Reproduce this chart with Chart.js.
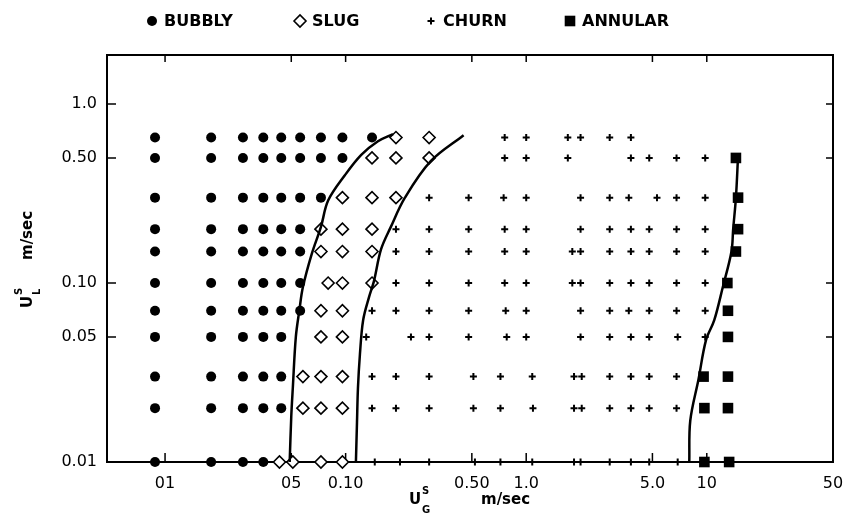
<!DOCTYPE html>
<html>
<head>
<meta charset="utf-8">
<title>Flow regime map</title>
<script src="https://cdn.jsdelivr.net/npm/chart.js"></script>
<style>
    html, body { margin: 0; padding: 0; background: #fff; }
    canvas { display: block; }
</style>
</head>
<body>
<canvas id="regimeChart" width="844" height="518"></canvas>
<script>
// superficial liquid velocity of each row of points (m/sec), top to bottom
const ulRows = [0.65, 0.5, 0.3, 0.2, 0.15, 0.1, 0.07, 0.05, 0.03, 0.02, 0.01];

// superficial gas velocity (m/sec) of the points, one list per row of ulRows
const bubblyUG = [
    [0.0088, 0.018, 0.027, 0.035, 0.044, 0.056, 0.073, 0.096, 0.14],
    [0.0088, 0.018, 0.027, 0.035, 0.044, 0.056, 0.073, 0.096],
    [0.0088, 0.018, 0.027, 0.035, 0.044, 0.056, 0.073],
    [0.0088, 0.018, 0.027, 0.035, 0.044, 0.056],
    [0.0088, 0.018, 0.027, 0.035, 0.044, 0.056],
    [0.0088, 0.018, 0.027, 0.035, 0.044, 0.056],
    [0.0088, 0.018, 0.027, 0.035, 0.044, 0.056],
    [0.0088, 0.018, 0.027, 0.035, 0.044],
    [0.0088, 0.018, 0.027, 0.035, 0.044],
    [0.0088, 0.018, 0.027, 0.035, 0.044],
    [0.0088, 0.018, 0.027, 0.035]
];
const slugUG = [
    [0.19, 0.29],
    [0.14, 0.19, 0.29],
    [0.096, 0.14, 0.19],
    [0.073, 0.096, 0.14],
    [0.073, 0.096, 0.14],
    [0.080, 0.096, 0.14],
    [0.073, 0.096],
    [0.073, 0.096],
    [0.058, 0.073, 0.096],
    [0.058, 0.073, 0.096],
    [0.043, 0.051, 0.073, 0.096]
];
const churnUG = [
    [0.76, 1.0, 1.7, 2.0, 2.9, 3.8],
    [0.76, 1.0, 1.7, 3.8, 4.8, 6.8, 9.8],
    [0.29, 0.48, 0.75, 1.0, 2.0, 2.9, 3.7, 5.3, 6.8, 9.8],
    [0.19, 0.29, 0.48, 0.76, 1.0, 2.0, 2.9, 3.8, 4.8, 6.8, 9.8],
    [0.19, 0.29, 0.48, 0.76, 1.0, 1.8, 2.0, 2.9, 3.8, 4.8, 6.8, 9.8],
    [0.19, 0.29, 0.48, 0.76, 1.0, 1.8, 2.0, 2.9, 3.8, 4.8, 6.8, 9.8],
    [0.14, 0.19, 0.29, 0.48, 0.77, 1.0, 2.0, 2.9, 3.7, 4.8, 6.8, 9.8],
    [0.13, 0.23, 0.29, 0.48, 0.78, 1.0, 2.0, 2.9, 3.8, 4.8, 6.9, 9.8],
    [0.14, 0.19, 0.29, 0.51, 0.72, 1.08, 1.84, 2.03, 2.9, 3.8, 4.8, 6.8],
    [0.14, 0.19, 0.29, 0.51, 0.72, 1.09, 1.84, 2.03, 2.9, 3.8, 4.8, 6.8],
    [0.145, 0.20, 0.29, 0.52, 0.72, 1.08, 1.84, 2.0, 2.9, 3.8, 4.8, 6.9]
];
const annularUG = [
    [], [14.5], [14.9], [14.9], [14.5], [13.0], [13.1], [13.1], [9.6, 13.1], [9.7, 13.1], [9.7, 13.3]
];

// transition boundaries
const bubblySlugUG = [0.049, 0.050, 0.051, 0.053, 0.0555, 0.058, 0.065, 0.073, 0.080, 0.099, 0.122, 0.151, 0.183];
const bubblySlugUL = [0.01, 0.018, 0.026, 0.05, 0.071, 0.095, 0.146, 0.206, 0.289, 0.40, 0.52, 0.62, 0.68];
const slugChurnUG = [0.114, 0.1156, 0.117, 0.120, 0.125, 0.135, 0.1435, 0.157, 0.178, 0.213, 0.296, 0.45];
const slugChurnUL = [0.01, 0.0167, 0.0258, 0.040, 0.062, 0.084, 0.1025, 0.154, 0.206, 0.30, 0.48, 0.67];
const churnAnnularUG = [8.0, 8.1, 9.0, 9.9, 11.0, 12.3, 13.7, 14.0, 14.5, 14.9];
const churnAnnularUL = [0.01, 0.017, 0.029, 0.048, 0.062, 0.096, 0.15, 0.2, 0.3, 0.51];

// axis ticks
const xTickValues = [0.01, 0.05, 0.1, 0.5, 1, 5, 10, 50];
const xTickLabels = ['01', '05', '0.10', '0.50', '1.0', '5.0', '10', '50'];
const yTickValues = [0.01, 0.05, 0.1, 0.5, 1];
const yTickLabels = ['0.01', '0.05', '0.10', '0.50', '1.0'];

const FONT = 'DejaVu Sans';

function rowPoints(rows) {
    const pts = [];
    rows.forEach((xs, i) => {
        xs.forEach(x => pts.push({ x: x, y: ulRows[i] }));
    });
    return pts;
}

function curvePoints(xs, ys) {
    return xs.map((x, i) => ({ x: x, y: ys[i] }));
}

function boundary(xs, ys) {
    return {
        label: '',
        data: curvePoints(xs, ys),
        showLine: true,
        borderColor: '#000',
        borderWidth: 2.5,
        pointRadius: 0,
        tension: 0.35,
        fill: false,
        clip: false
    };
}

/* frame round the plot with inward ticks on all four sides */
const framePlugin = {
    id: 'frame',
    beforeDatasetsDraw(chart) {
        const { ctx, chartArea: a, scales: { x, y } } = chart;
        ctx.save();
        ctx.strokeStyle = '#000';
        ctx.lineWidth = 2;
        ctx.strokeRect(a.left, a.top, a.right - a.left, a.bottom - a.top);
        ctx.lineWidth = 1.5;
        ctx.beginPath();
        xTickValues.forEach(v => {
            const px = x.getPixelForValue(v);
            if (px >= a.right - 2) return;
            ctx.moveTo(px, a.bottom);
            ctx.lineTo(px, a.bottom - 9);
            ctx.moveTo(px, a.top);
            ctx.lineTo(px, a.top + 7);
        });
        yTickValues.forEach(v => {
            const py = y.getPixelForValue(v);
            if (py >= a.bottom - 2) return;
            ctx.moveTo(a.left, py);
            ctx.lineTo(a.left + 9, py);
            ctx.moveTo(a.right, py);
            ctx.lineTo(a.right - 7, py);
        });
        ctx.stroke();
        ctx.restore();
    }
};

/* key along the top and the two axis titles with sub/superscripts */
const labelsPlugin = {
    id: 'labels',
    afterDraw(chart, args, opts) {
        const ctx = chart.ctx;
        ctx.save();
        ctx.fillStyle = '#000';
        ctx.strokeStyle = '#000';

        // key
        opts.key.forEach(item => {
            const ds = chart.data.datasets[item.dataset];
            ctx.fillStyle = ds.pointBackgroundColor || '#000';
            ctx.strokeStyle = '#000';
            ctx.lineWidth = ds.pointBorderWidth || 0;
            Chart.helpers.drawPoint(ctx, {
                pointStyle: ds.pointStyle,
                radius: ds.pointRadius,
                borderWidth: ds.pointBorderWidth || 0,
                rotation: 0
            }, item.x, opts.keyY);
            ctx.fillStyle = '#000';
            ctx.font = 'bold 16px ' + FONT;
            ctx.textAlign = 'left';
            ctx.textBaseline = 'middle';
            ctx.fillText(ds.label, item.x + 12, opts.keyY + 1);
        });

        // x title
        ctx.textBaseline = 'alphabetic';
        ctx.font = 'bold 15px ' + FONT;
        ctx.fillText('U', 409, 504);
        ctx.font = 'bold 10px ' + FONT;
        ctx.fillText('S', 422, 494);
        ctx.fillText('G', 422, 513);
        ctx.font = 'bold 15px ' + FONT;
        ctx.fillText('m/sec', 481, 504);

        // y title
        ctx.translate(32, 308);
        ctx.rotate(-Math.PI / 2);
        ctx.font = 'bold 15px ' + FONT;
        ctx.fillText('U', 0, 0);
        ctx.font = 'bold 10px ' + FONT;
        ctx.fillText('S', 13, -10);
        ctx.fillText('L', 13, 8);
        ctx.font = 'bold 15px ' + FONT;
        ctx.fillText('m/sec', 48, 0);
        ctx.restore();
    }
};

document.addEventListener('DOMContentLoaded', () => {
    const ctx = document.getElementById('regimeChart').getContext('2d');
    new Chart(ctx, {
        type: 'scatter',
        data: {
            datasets: [
                boundary(bubblySlugUG, bubblySlugUL),
                boundary(slugChurnUG, slugChurnUL),
                boundary(churnAnnularUG, churnAnnularUL),
                {
                    label: 'BUBBLY',
                    data: rowPoints(bubblyUG),
                    pointStyle: 'circle',
                    pointRadius: 5,
                    pointBackgroundColor: '#000',
                    pointBorderWidth: 0,
                    clip: false
                },
                {
                    label: 'SLUG',
                    data: rowPoints(slugUG),
                    pointStyle: 'rectRot',
                    pointRadius: 6,
                    pointBackgroundColor: '#fff',
                    pointBorderColor: '#000',
                    pointBorderWidth: 1.6,
                    clip: false
                },
                {
                    label: 'CHURN',
                    data: rowPoints(churnUG),
                    pointStyle: 'cross',
                    pointRadius: 3.5,
                    pointBorderColor: '#000',
                    pointBorderWidth: 2,
                    clip: false
                },
                {
                    label: 'ANNULAR',
                    data: rowPoints(annularUG),
                    pointStyle: 'rect',
                    pointRadius: 7.5,
                    pointBackgroundColor: '#000',
                    pointBorderWidth: 0,
                    clip: false
                }
            ]
        },
        options: {
            responsive: false,
            animation: false,
            layout: { padding: { top: 55, right: 11, left: 0, bottom: 0 } },
            plugins: {
                legend: { display: false },
                tooltip: { enabled: false },
                labels: {
                    keyY: 21,
                    key: [
                        { dataset: 3, x: 152 },
                        { dataset: 4, x: 300 },
                        { dataset: 5, x: 431 },
                        { dataset: 6, x: 570 }
                    ]
                }
            },
            scales: {
                x: {
                    type: 'logarithmic',
                    min: 0.00477,
                    max: 50,
                    grid: { display: false, drawTicks: false },
                    border: { display: false },
                    afterBuildTicks: scale => {
                        scale.ticks = xTickValues.map(v => ({ value: v }));
                    },
                    afterFit: scale => {
                        scale.height = 56;
                        scale.paddingLeft = 0;
                        scale.paddingRight = 0;
                    },
                    ticks: {
                        autoSkip: false,
                        maxRotation: 0,
                        minRotation: 0,
                        padding: 12,
                        color: '#000',
                        font: { family: FONT, size: 16 },
                        callback: (v, i) => xTickLabels[i]
                    }
                },
                y: {
                    type: 'logarithmic',
                    min: 0.01,
                    max: 1.88,
                    grid: { display: false, drawTicks: false },
                    border: { display: false },
                    afterBuildTicks: scale => {
                        scale.ticks = yTickValues.map(v => ({ value: v }));
                    },
                    afterFit: scale => {
                        scale.width = 107;
                        scale.paddingTop = 0;
                        scale.paddingBottom = 0;
                    },
                    ticks: {
                        autoSkip: false,
                        padding: 10,
                        color: '#000',
                        font: { family: FONT, size: 16 },
                        callback: (v, i) => yTickLabels[i]
                    }
                }
            }
        },
        plugins: [framePlugin, labelsPlugin]
    });
});
</script>
</body>
</html>
